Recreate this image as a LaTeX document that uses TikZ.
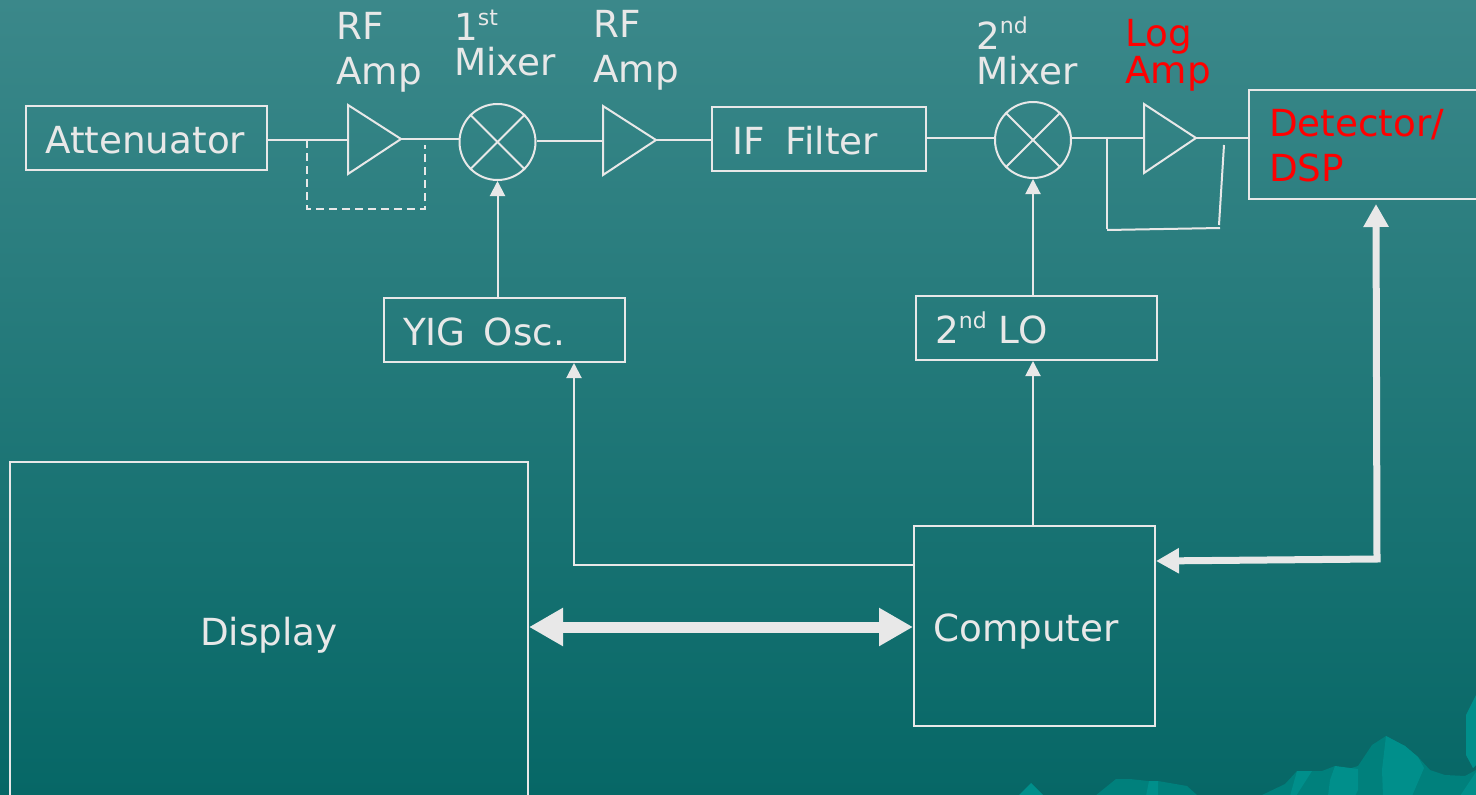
\documentclass[tikz,border=0pt]{standalone}
\usepackage{fontspec}
\setmainfont{DejaVu Sans}
\usetikzlibrary{arrows.meta}
\definecolor{linec}{HTML}{E8E8E8}
\definecolor{bgtop}{HTML}{3B888A}
\definecolor{bgbot}{HTML}{066766}
\definecolor{mtnA}{HTML}{008F8B}
\definecolor{mtnB}{HTML}{00807C}
\newcommand\supr[1]{\raisebox{0.42em}{\fontsize{22}{22}\selectfont #1}}
\tikzset{
  x=1pt,y=-1pt,
  wire/.style={draw=linec,line width=2pt},
  dashwire/.style={wire,dash pattern=on 8pt off 5pt},
  arrowwire/.style={wire,-{Triangle[length=15pt,width=15pt]}},
  fatwire/.style={draw=linec,line width=7pt},
  box/.style={draw=linec,line width=2pt,inner sep=0pt,anchor=north west},
  mixer/.style={draw=linec,line width=2pt,circle,minimum size=76pt,inner sep=0pt},
  amp/.style={draw=linec,line width=2pt,line join=miter},
  lab/.style={text=linec,inner sep=0pt,anchor=west,align=left,font=\fontsize{37.3}{45}\selectfont},
  redlab/.style={lab,text=red},
}
\begin{document}
\begin{tikzpicture}
\useasboundingbox (0,0) rectangle (1476,795);
\clip (0,0) rectangle (1476,795);
\shade[top color=bgtop,bottom color=bgbot] (0,0) rectangle (1476,795);
% mountains
\fill[mtnA] (1018,796)--(1031,783)--(1044,796)--cycle;
\fill[mtnB] (1095,796)--(1116,779)--(1130,779)--(1148,781)--(1158,781)--(1187,786)--(1198,796)--cycle;
\fill[mtnA] (1146,796)--(1149,781)--(1158,781)--(1158,796)--cycle;
\fill[mtnB] (1260,796)--(1285,784)--(1297,771)--(1322,771)--(1335,766)--(1348,769)--(1358,766)--(1372,745)--(1386,736)--(1405,746)--(1418,757)--(1430,770)--(1445,775)--(1465,776)--(1476,770)--(1476,796)--cycle;
\fill[mtnA] (1290,796)--(1297,771)--(1312,771)--(1296,796)--cycle;
\fill[mtnA] (1328,796)--(1330,780)--(1335,766)--(1358,769)--(1358,790)--(1355,796)--cycle;
\fill[mtnA] (1383,796)--(1382,770)--(1386,736)--(1405,746)--(1418,757)--(1424,768)--(1412,796)--cycle;
\fill[mtnA] (1476,695)--(1466,715)--(1466,755)--(1473,768)--(1476,765)--cycle;
\fill[mtnA] (1460,796)--(1476,772)--(1476,796)--cycle;
% boxes
\node[box,minimum width=241pt,minimum height=64pt] (att) at (25,105) {};
\node[box,minimum width=214pt,minimum height=64pt] (iff) at (711,106) {};
\node[box,minimum width=260pt,minimum height=109pt] (det) at (1248,89) {};
\node[box,minimum width=241pt,minimum height=64pt] (yig) at (383,297) {};
\node[box,minimum width=241pt,minimum height=64pt] (lo) at (915,295) {};
\node[box,minimum width=241pt,minimum height=200pt] (comp) at (913,525) {};
\node[box,minimum width=518pt,minimum height=360pt] (disp) at (9,461) {};
% mixers
\node[mixer] (m1) at (497.5,142) {};
\node[mixer] (m2) at (1033,140) {};
\foreach \m in {m1,m2}{
  \draw[wire] (\m.45)--(\m.225);
  \draw[wire] (\m.135)--(\m.315);
}
% amplifiers
\coordinate (a1t) at (348,105); \coordinate (a1b) at (348,174); \coordinate (a1o) at (401,139); \coordinate (a1i) at (348,140);
\coordinate (a2t) at (603,106); \coordinate (a2b) at (603,175); \coordinate (a2o) at (656,140); \coordinate (a2i) at (603,141);
\coordinate (a3t) at (1144,104); \coordinate (a3b) at (1144,173); \coordinate (a3o) at (1196,138); \coordinate (a3i) at (1144,138);
\foreach \a in {a1,a2,a3}{
  \draw[amp] (\a t)--(\a o)--(\a b)--cycle;
}
% signal path
\draw[wire] (att.east|-a1i)--(a1i);
\draw[wire] (a1o)--(m1.west|-a1o);
\draw[wire] (m1.east|-a2i)--(a2i);
\draw[wire] (a2o)--(iff.west|-a2o);
\draw[wire] (iff.east|-a3i)--(m2.west|-a3i);
\draw[wire] (m2.east|-a3i)--(a3i);
\draw[wire] (a3o)--(det.west|-a3o);
% bypass
\coordinate (bp1) at (307,140); \coordinate (bp2) at (307,209); \coordinate (bp3) at (425,209); \coordinate (bp4) at (425,145);
\draw[dashwire] (bp1)--(bp2)--(bp3)--(bp4);
\coordinate (fb1) at (1107,139); \coordinate (fb2) at (1107,229); \coordinate (fb3) at (1107,230); \coordinate (fb4) at (1220,228); \coordinate (fb5) at (1219,225); \coordinate (fb6) at (1224,145);
\draw[wire] (fb1)--(fb2);
\draw[wire] (fb3)--(fb4);
\draw[wire] (fb5)--(fb6);
% control
\draw[arrowwire] (m1.south|-yig.north)--(m1.south);
\draw[arrowwire] (m2.south|-lo.north)--(m2.south);
\draw[arrowwire] (m2.south|-comp.north)--(m2.south|-lo.south);
\coordinate (cy) at (574,565);
\draw[arrowwire] (comp.west|-cy)--(cy)--(cy|-yig.south);
% thick links
\coordinate (dc) at (1377,559);
\draw[fatwire,{Triangle[length=23pt,width=24pt]}-{Triangle[length=23pt,width=24pt]},line join=miter] (comp.east|-0,561)--(dc)--(1376,204);
\draw[draw=linec,line width=11pt,{Triangle[length=34pt,width=36pt,inset=0pt]}-{Triangle[length=34pt,width=36pt,inset=0pt]}] (disp.east|-0,627)--(comp.west|-0,627);
% labels
\node[lab] (tatt) at (45,140.5) {Attenuator};
\node[lab] (tiff) at (732,141) {IF\hspace{9pt} Filter};
\node[lab] (tyig) at (403,332) {YIG\hspace{6pt} Osc.};
\node[lab] (tlo) at (935,328) {2\supr{nd} LO};
\node[lab] (tcomp) at (933,632) {Computer};
\node[lab,anchor=center] (tdisp) at (269,635) {Display};
\node[lab] (trf1) at (336,52) {RF\\Amp};
\node[lab] (tm1) at (454,43) {1\supr{st}\\[-10pt]Mixer};
\node[lab] (trf2) at (593,50.5) {RF\\Amp};
\node[lab] (tm2) at (976,51) {2\supr{nd}\\[-10pt]Mixer};
\node[redlab] (tlog) at (1125,55.5) {Log\\[-8pt]Amp};
\node[redlab] (tdet) at (1269,146) {Detector/\\DSP};
\end{tikzpicture}
\end{document}
